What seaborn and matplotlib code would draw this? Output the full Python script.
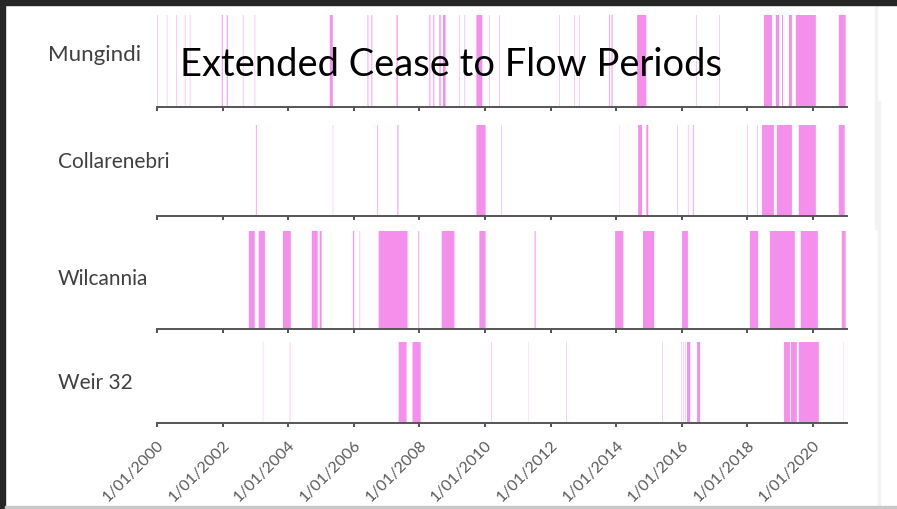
import matplotlib
matplotlib.use("Agg")
import matplotlib.pyplot as plt
from matplotlib.patches import Rectangle
import seaborn as sns

# ---------------- data (decimal years) ----------------
sites = ["Mungindi", "Collarenebri", "Wilcannia", "Weir 32"]

mungindi_start = [2000.000, 2000.300, 2000.580, 2000.850, 2001.000, 2001.975, 2002.125,
                  2002.620, 2002.980, 2005.270, 2006.420, 2006.540, 2007.305, 2008.305,
                  2008.425, 2008.610, 2008.720, 2009.220, 2009.380, 2009.740, 2010.140,
                  2010.440, 2012.270, 2012.720, 2012.880, 2013.790, 2013.860, 2014.640,
                  2016.440, 2017.140, 2018.510, 2018.870, 2019.060, 2019.270, 2019.480,
                  2020.790]
mungindi_end = [2000.014, 2000.312, 2000.594, 2000.864, 2001.014, 2002.005, 2002.155,
                2002.634, 2002.994, 2005.360, 2006.445, 2006.565, 2007.340, 2008.335,
                2008.455, 2008.650, 2008.800, 2009.234, 2009.394, 2009.920, 2010.154,
                2010.456, 2012.284, 2012.734, 2012.894, 2013.815, 2013.890, 2014.920,
                2016.454, 2017.154, 2018.750, 2018.970, 2019.090, 2019.360, 2020.090,
                2021.000]

collarenebri_start = [2003.015, 2005.360, 2006.720, 2007.330, 2009.740, 2010.500, 2014.090,
                      2014.670, 2014.920, 2015.860, 2016.190, 2016.340, 2017.990, 2018.300,
                      2018.450, 2018.900, 2019.570, 2020.790]
collarenebri_end = [2003.040, 2005.372, 2006.740, 2007.360, 2010.020, 2010.514, 2014.097,
                    2014.790, 2014.980, 2015.874, 2016.204, 2016.365, 2018.004, 2018.316,
                    2018.810, 2019.360, 2020.090, 2020.970]

wilcannia_start = [2002.800, 2003.100, 2003.840, 2004.720, 2004.960, 2005.975, 2006.180,
                   2006.760, 2007.970, 2008.680, 2009.830, 2011.515, 2013.970, 2014.820,
                   2016.010, 2018.080, 2018.690, 2019.630, 2020.880]
wilcannia_end = [2002.980, 2003.290, 2004.080, 2004.900, 2005.020, 2006.010, 2006.194,
                 2007.640, 2007.995, 2009.070, 2010.020, 2011.545, 2014.220, 2015.160,
                 2016.190, 2018.330, 2019.450, 2020.150, 2021.000]

weir32_start = [2003.230, 2004.050, 2007.370, 2007.790, 2010.200, 2011.320, 2012.480,
                2015.400, 2015.990, 2016.040, 2016.100, 2016.160, 2016.470, 2019.120,
                2019.330, 2019.570, 2020.940]
weir32_end = [2003.237, 2004.064, 2007.610, 2008.040, 2010.214, 2011.327, 2012.494,
              2015.414, 2016.002, 2016.052, 2016.112, 2016.260, 2016.560, 2019.300,
              2019.510, 2020.180, 2020.947]

tick_years = [2000, 2002, 2004, 2006, 2008, 2010, 2012, 2014, 2016, 2018, 2020]
tick_labels = ["1/01/2000", "1/01/2002", "1/01/2004", "1/01/2006", "1/01/2008",
               "1/01/2010", "1/01/2012", "1/01/2014", "1/01/2016", "1/01/2018",
               "1/01/2020"]
title = "Extended Cease to Flow Periods"

periods = [(mungindi_start, mungindi_end), (collarenebri_start, collarenebri_end),
           (wilcannia_start, wilcannia_end), (weir32_start, weir32_end)]

# ---------------- styling ----------------
sns.set_theme(style="white")
plt.rcParams["font.family"] = ["Lato", "DejaVu Sans"]

W, H = 897, 510
fig = plt.figure(figsize=(W / 100, H / 100), dpi=100)
fig.patch.set_facecolor("white")

pink = "#F490EC"
panel_px = [(16, 108), (126, 217), (232, 330), (343, 424)]
x_left, x_right = 157, 847
label_pos = [(48, 55), (58, 162), (58, 279), (58, 383)]
label_size = [16, 15, 15, 15]

for i, ((top, bot), (st, en)) in enumerate(zip(panel_px, periods)):
    ax = fig.add_axes([x_left / W, 1 - bot / H, (x_right - x_left) / W, (bot - top) / H])
    widths = [e - s for s, e in zip(st, en)]
    ax.bar(st, [1] * len(st), width=widths, bottom=0, align="edge",
           color=pink, edgecolor="none", linewidth=0, antialiased=True, snap=False)
    ax.set_xlim(2000, 2021.04)
    ax.set_ylim(0, 1)
    ax.set_yticks([])
    ax.set_facecolor("none")
    sns.despine(ax=ax, left=True, top=True, right=True)
    ax.spines["bottom"].set_color("#555555")
    ax.spines["bottom"].set_linewidth(1.4)
    ax.set_xticks(tick_years)
    ax.tick_params(axis="x", direction="out", length=3, width=1.2, color="#333333",
                   bottom=True, labelsize=11.5, labelcolor="#595959", pad=7)
    if i < 3:
        ax.set_xticklabels([])
    else:
        ax.set_xticklabels(tick_labels, rotation=45, ha="right", rotation_mode="anchor")
    ax.grid(False)
    lx, ly = label_pos[i]
    fig.text(lx / W, 1 - ly / H, sites[i], ha="left", va="center",
             fontsize=label_size[i], color="#404040")

# title over the top panel
t = fig.text(451 / W, 1 - 76 / H, title, ha="center", va="baseline",
             fontsize=26, color="black", zorder=10)
fig.canvas.draw()
w = t.get_window_extent(renderer=fig.canvas.get_renderer()).width
t.set_fontsize(26 * 542 / w)

# screenshot frame
fig.patches.append(Rectangle((0, 1 - 6 / H), 1, 6 / H, transform=fig.transFigure,
                             color="#262626", zorder=20))
fig.patches.append(Rectangle((0, 0), 5 / W, 1, transform=fig.transFigure,
                             color="#262626", zorder=20))
fig.patches.append(Rectangle((5 / W, 0), 1, 3 / H, transform=fig.transFigure,
                             color="#c8c8c8", zorder=20))
fig.patches.append(Rectangle((875 / W, 1 - 230 / H), 1.5 / W, 224 / H,
                             transform=fig.transFigure, color="#f2f2f2", zorder=5))
fig.patches.append(Rectangle((878 / W, 3 / H), 1.5 / W, 405 / H,
                             transform=fig.transFigure, color="#f2f2f2", zorder=5))

fig.savefig("out.png", dpi=100)
